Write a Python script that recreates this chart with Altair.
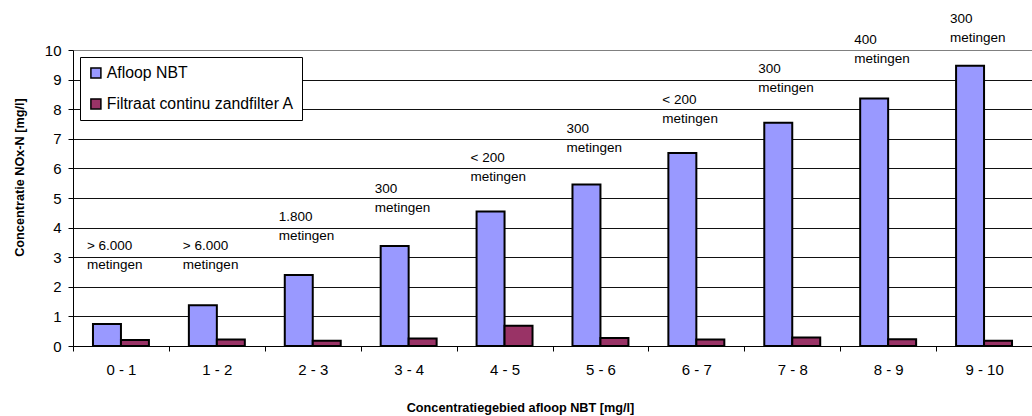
import altair as alt
import pandas as pd

# Concentration classes of the NBT effluent (x categories)
categories = ["0 - 1", "1 - 2", "2 - 3", "3 - 4", "4 - 5",
              "5 - 6", "6 - 7", "7 - 8", "8 - 9", "9 - 10"]

# Mean NOx-N concentration per class [mg/l]
afloop_nbt = [0.74, 1.38, 2.40, 3.38, 4.54, 5.46, 6.52, 7.54, 8.36, 9.47]
filtraat_a = [0.20, 0.22, 0.18, 0.25, 0.68, 0.27, 0.22, 0.29, 0.23, 0.18]

series_names = ["Afloop NBT", "Filtraat continu zandfilter A"]
series_colors = ["#9999FF", "#993366"]

# Number of measurements per class and the height (mg/l) of its note
measurement_counts = ["> 6.000", "> 6.000", "1.800", "300", "< 200",
                      "300", "< 200", "300", "400", "300"]
note_levels = [3.41, 3.41, 4.39, 5.35, 6.39, 7.36, 8.35, 9.38, 10.36, 11.07]

FONT = "Liberation Sans"

bars_df = pd.DataFrame({
    "klasse": categories * 2,
    "reeks": [series_names[0]] * len(categories) + [series_names[1]] * len(categories),
    "waarde": afloop_nbt + filtraat_a,
})

notes_df = pd.DataFrame({
    "klasse": categories,
    "niveau": note_levels,
    "tekst": [f"{c}\nmetingen" for c in measurement_counts],
})

y_scale = alt.Scale(domain=[0, 10], nice=False, zero=True)
x_scale = alt.Scale(paddingInner=0, paddingOuter=0)

x_axis = alt.Axis(
    title="Concentratiegebied afloop NBT [mg/l]",
    labelAngle=0,
    labelFontSize=15,
    labelPadding=11,
    labelColor="black",
    tickBand="extent",
    tickSize=5,
    tickColor="black",
    domainColor="black",
    grid=False,
    titleFontSize=12.7,
    titleFontWeight="bold",
    titleColor="black",
    titleX=447,
    titleY=61,
    titleAlign="center",
    titleBaseline="middle",
)

y_axis = alt.Axis(
    title="Concentratie NOx-N [mg/l]",
    values=list(range(0, 11)),
    labelOverlap=False,
    labelFontSize=15,
    labelPadding=7,
    labelColor="black",
    tickSize=5,
    tickColor="black",
    domainColor="black",
    grid=True,
    gridColor={"condition": {"test": "datum.value == 10", "value": "#808080"},
               "value": "#111111"},
    gridWidth=1,
    titleFontSize=12.7,
    titleFontWeight="bold",
    titleColor="black",
    titleAngle=270,
    titleX=-54,
    titleY=127,
    titleAlign="center",
    titleBaseline="middle",
)

bars = alt.Chart(bars_df).mark_bar(stroke="black", strokeWidth=2).encode(
    x=alt.X("klasse:N", sort=categories, scale=x_scale, axis=x_axis),
    xOffset=alt.XOffset(
        "reeks:N",
        sort=series_names,
        scale=alt.Scale(paddingInner=0, paddingOuter=0.714),
    ),
    y=alt.Y("waarde:Q", scale=y_scale, axis=y_axis),
    color=alt.Color(
        "reeks:N",
        sort=series_names,
        scale=alt.Scale(domain=series_names, range=series_colors),
        legend=alt.Legend(
            title=None,
            orient="none",
            legendX=7,
            legendY=7,
            fillColor="white",
            strokeColor="black",
            padding=8,
            rowPadding=14,
            symbolType="square",
            symbolSize=100,
            symbolStrokeColor="black",
            symbolStrokeWidth=1.5,
            symbolOpacity=1,
            labelFontSize=15.8,
            labelColor="black",
            labelLimit=400,
            labelOffset=3,
        ),
    ),
)

notes = alt.Chart(notes_df).mark_text(
    align="left",
    baseline="top",
    dx=-34,
    dy=-6,
    lineBreak="\n",
    lineHeight=19,
    fontSize=13.5,
    font=FONT,
    color="black",
).encode(
    x=alt.X("klasse:N", sort=categories, scale=x_scale, axis=x_axis),
    y=alt.Y("niveau:Q", scale=y_scale, axis=y_axis),
    text="tekst:N",
)

chart = alt.layer(bars, notes).properties(
    width=959,
    height=296,
    autosize=alt.AutoSizeParams(type="none"),
    padding={"left": 73, "top": 50, "right": 0, "bottom": 70},
    background="white",
).configure_view(
    stroke=None,
).configure_axis(
    labelFont=FONT,
    titleFont=FONT,
).configure_legend(
    labelFont=FONT,
)

chart.save("out.html", embed_options={"renderer": "svg", "actions": False})
